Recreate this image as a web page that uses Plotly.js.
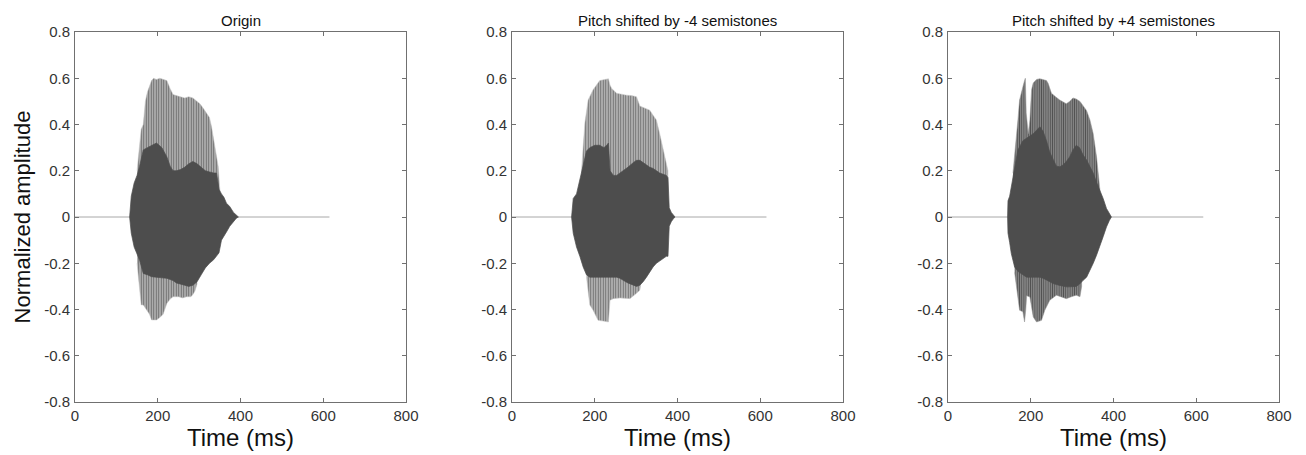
<!DOCTYPE html>
<html>
<head>
<meta charset="utf-8">
<script src="https://cdn.plot.ly/plotly-3.0.1.min.js"></script>
<style>html,body{margin:0;padding:0;background:#fff}#chart{width:1306px;height:455px}</style>
</head>
<body>
<div id="chart"></div>
<script>
// ---------- Data (time in ms, normalized amplitude) ----------
const panelTitles = ["Origin", "Pitch shifted by -4 semistones", "Pitch shifted by +4 semistones"];
const xTickVals = [0, 200, 400, 600, 800];
const yTickVals = [-0.8, -0.6, -0.4, -0.2, 0, 0.2, 0.4, 0.6, 0.8];
const yTickText = ["-0.8", "-0.6", "-0.4", "-0.2", "0", "0.2", "0.4", "0.6", "0.8"];
const signalEnd = [615, 615, 617];

// Panel 1: Origin
const p1DenseT = [132,136,143,150,156,165,175,185,197,210,222,230,237,245,255,265,275,285,295,305,315,325,335,342,348,354,360,366,374,383,390,395];
const p1DenseUp = [0,0.09,0.147,0.18,0.218,0.29,0.3,0.31,0.32,0.3,0.26,0.22,0.2,0.2,0.205,0.215,0.23,0.24,0.23,0.215,0.2,0.195,0.19,0.19,0.12,0.1,0.085,0.06,0.045,0.02,0.008,0];
const p1DenseLo = [0,-0.07,-0.13,-0.16,-0.186,-0.244,-0.25,-0.258,-0.26,-0.263,-0.265,-0.27,-0.275,-0.285,-0.29,-0.295,-0.3,-0.295,-0.28,-0.25,-0.22,-0.2,-0.185,-0.17,-0.155,-0.1,-0.08,-0.065,-0.04,-0.02,-0.005,0];
const p1PeakUpT = [150,156,160,165,170,175,180,185,190,197,205,213,222,230,237,245,255,265,275,285,295,302,310,318,325,330,336,342,346,350];
const p1PeakUp = [0.2,0.3,0.38,0.4,0.5,0.54,0.57,0.59,0.6,0.595,0.6,0.595,0.59,0.555,0.53,0.525,0.52,0.515,0.52,0.515,0.5,0.49,0.47,0.45,0.43,0.39,0.33,0.26,0.22,0.12];
const p1PeakLoT = [150,156,160,165,173,180,185,197,205,213,222,230,237,250,260,270,280,285,290,295];
const p1PeakLo = [-0.2,-0.3,-0.38,-0.38,-0.4,-0.42,-0.445,-0.445,-0.435,-0.42,-0.374,-0.355,-0.345,-0.345,-0.35,-0.345,-0.345,-0.335,-0.32,-0.29];

// Panel 2: -4 semitones
const p2DenseT = [144,148,156,164,172,180,188,200,212,222,229,233,237,245,253,261,270,280,293,301,309,317,325,333,341,349,357,365,373,377,380,385,390,394];
const p2DenseUp = [0,0.08,0.1,0.16,0.22,0.285,0.3,0.31,0.31,0.3,0.31,0.32,0.2,0.18,0.18,0.19,0.2,0.215,0.235,0.245,0.245,0.235,0.225,0.215,0.21,0.2,0.19,0.185,0.18,0.17,0.04,0.02,0.008,0];
const p2DenseLo = [0,-0.07,-0.13,-0.17,-0.216,-0.25,-0.26,-0.26,-0.26,-0.26,-0.26,-0.26,-0.26,-0.26,-0.26,-0.265,-0.275,-0.285,-0.295,-0.3,-0.295,-0.28,-0.26,-0.24,-0.216,-0.2,-0.187,-0.18,-0.17,-0.17,-0.04,-0.02,-0.008,0];
const p2PeakUpT = [168,172,176,184,196,212,222,229,233,237,241,253,265,277,289,301,309,321,333,341,349,357,365,373,377];
const p2PeakUp = [0.2,0.318,0.405,0.506,0.55,0.59,0.595,0.598,0.598,0.57,0.556,0.535,0.53,0.527,0.525,0.52,0.48,0.47,0.462,0.44,0.42,0.36,0.29,0.23,0.2];
const p2PeakLoT = [180,184,188,196,208,220,233,237,245,261,275,285,301,309,312];
const p2PeakLo = [-0.26,-0.33,-0.38,-0.403,-0.447,-0.45,-0.454,-0.36,-0.353,-0.35,-0.35,-0.353,-0.33,-0.317,-0.28];

// Panel 3: +4 semitones
const p3DenseT = [144,145,149,153,161,169,181,190,198,206,214,222,230,238,246,254,262,270,278,286,294,302,310,318,326,335,343,351,359,367,375,383,390,395];
const p3DenseUp = [0,0.07,0.09,0.13,0.217,0.29,0.33,0.34,0.35,0.36,0.375,0.39,0.37,0.33,0.28,0.246,0.22,0.217,0.225,0.24,0.26,0.29,0.31,0.3,0.27,0.246,0.22,0.19,0.15,0.116,0.08,0.037,0.015,0];
const p3DenseLo = [0,-0.07,-0.11,-0.158,-0.216,-0.235,-0.25,-0.26,-0.26,-0.26,-0.26,-0.26,-0.265,-0.272,-0.28,-0.288,-0.292,-0.296,-0.3,-0.302,-0.302,-0.302,-0.3,-0.29,-0.275,-0.26,-0.23,-0.2,-0.165,-0.13,-0.085,-0.043,-0.015,0];
const p3PeakUpT = [157,161,165,169,173,177,181,185,187,189,194,198,202,206,214,222,230,238,242,250,260,270,286,294,302,310,319,327,335,343,351,359,363,367];
const p3PeakUp = [0.19,0.26,0.33,0.42,0.506,0.54,0.563,0.59,0.6,0.45,0.36,0.42,0.55,0.58,0.595,0.598,0.595,0.59,0.578,0.535,0.52,0.506,0.49,0.5,0.515,0.51,0.5,0.48,0.46,0.42,0.36,0.26,0.19,0.12];
const p3PeakLoT = [161,165,169,173,181,185,188,190,198,206,214,226,234,246,262,274,286,298,310,319,323];
const p3PeakLo = [-0.24,-0.3,-0.36,-0.403,-0.41,-0.454,-0.4,-0.34,-0.346,-0.432,-0.454,-0.447,-0.403,-0.36,-0.338,-0.345,-0.353,-0.345,-0.338,-0.345,-0.3];

// ---------- Styles ----------
const panels = [
  {dT:p1DenseT,dU:p1DenseUp,dL:p1DenseLo,uT:p1PeakUpT,u:p1PeakUp,lT:p1PeakLoT,l:p1PeakLo,fg:'#6a6a6a',bg:'#c2c2c2',sz:2.5},
  {dT:p2DenseT,dU:p2DenseUp,dL:p2DenseLo,uT:p2PeakUpT,u:p2PeakUp,lT:p2PeakLoT,l:p2PeakLo,fg:'#6e6e6e',bg:'#c6c6c6',sz:2.5},
  {dT:p3DenseT,dU:p3DenseUp,dL:p3DenseLo,uT:p3PeakUpT,u:p3PeakUp,lT:p3PeakLoT,l:p3PeakLo,fg:'#525252',bg:'#939393',sz:2.2}
];
const denseColor = '#4d4d4d';
const xDomains = [[0, 331/1204], [437/1204, 768/1204], [873/1204, 1]];
const FONT = 'Liberation Sans, Arial, sans-serif';

const traces = [];
panels.forEach((p, i) => {
  const xa = i === 0 ? 'x' : 'x' + (i + 1);
  const ya = i === 0 ? 'y' : 'y' + (i + 1);
  traces.push({x:[0, signalEnd[i]], y:[0, 0], xaxis:xa, yaxis:ya, mode:'lines',
    line:{color:'#a8a8a8', width:1}, hoverinfo:'skip', showlegend:false});
  const ox = [], oy = [];
  p.uT.forEach((t, k) => { ox.push(t); oy.push(p.u[k]); });
  ox.push(p.uT[p.uT.length - 1], p.uT[0]); oy.push(0, 0);
  ox.push(null); oy.push(null);
  p.lT.forEach((t, k) => { ox.push(t); oy.push(p.l[k]); });
  ox.push(p.lT[p.lT.length - 1], p.lT[0]); oy.push(0, 0);
  traces.push({x:ox, y:oy, xaxis:xa, yaxis:ya, mode:'lines', fill:'toself',
    fillcolor:p.bg, line:{color:p.bg, width:0.5},
    fillpattern:{shape:'|', size:p.sz, solidity:0.5, fgcolor:p.fg, bgcolor:p.bg},
    hoverinfo:'skip', showlegend:false});
  const dx = p.dT.concat(p.dT.slice().reverse());
  const dy = p.dU.concat(p.dL.slice().reverse());
  traces.push({x:dx, y:dy, xaxis:xa, yaxis:ya, mode:'lines', fill:'toself',
    fillcolor:denseColor, line:{color:denseColor, width:0.7},
    hoverinfo:'skip', showlegend:false});
});

const axisCommon = {
  showgrid:false, zeroline:false, showline:true, linecolor:'#707070', linewidth:1,
  mirror:'ticks', ticks:'inside', ticklen:4, tickcolor:'#707070', tickwidth:1,
  tickfont:{family:FONT, size:15, color:'#333333'}
};

const layout = {
  width:1306, height:455,
  margin:{l:75, r:27, t:32, b:53},
  paper_bgcolor:'#ffffff', plot_bgcolor:'#ffffff',
  showlegend:false,
  annotations:[]
};
for (let i = 0; i < 3; i++) {
  const sx = i === 0 ? '' : String(i + 1);
  layout['xaxis' + sx] = Object.assign({}, axisCommon, {
    domain:xDomains[i], anchor:'y' + sx, range:[0, 800], tickvals:xTickVals,
    ticktext:xTickVals.map(String), ticklabelstandoff:0, automargin:false,
    title:{text:'Time (ms)', standoff:5, font:{family:FONT, size:24, color:'#111111'}}
  });
  layout['yaxis' + sx] = Object.assign({}, axisCommon, {
    domain:[0, 1], anchor:'x' + sx, range:[-0.8, 0.8], tickvals:yTickVals, ticktext:yTickText,
    ticklabelstandoff:1, automargin:false,
    title: i === 0 ? {text:'Normalized amplitude', standoff:7, font:{family:FONT, size:22, color:'#111111'}} : {text:''}
  });
  layout.annotations.push({
    text:panelTitles[i], xref:'x' + sx + ' domain', yref:'paper', x:0.5, y:1,
    xanchor:'center', yanchor:'bottom', yshift:1, showarrow:false,
    font:{family:FONT, size:15, color:'#111111'}
  });
}

Plotly.newPlot('chart', traces, layout, {staticPlot:true, displayModeBar:false});
</script>
</body>
</html>
